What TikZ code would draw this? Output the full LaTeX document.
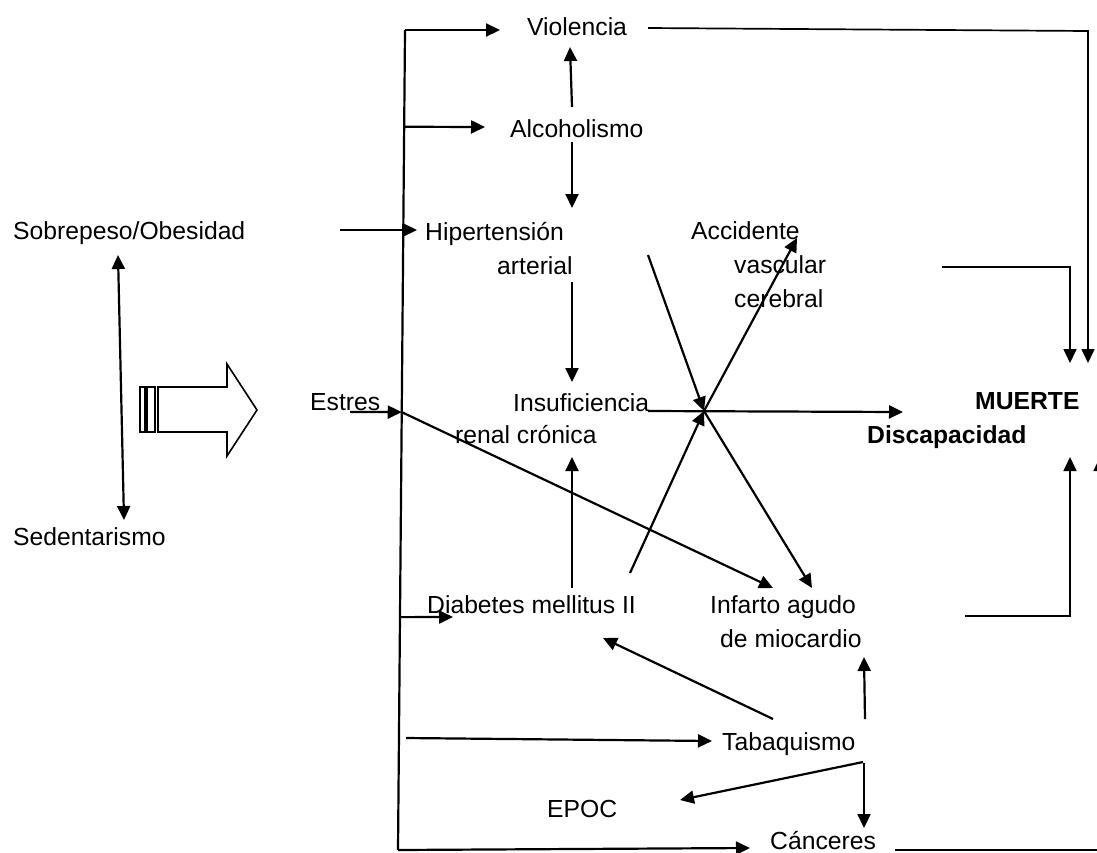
\documentclass[tikz,border=0pt]{standalone}
\usepackage{fontspec}
\setmainfont{Liberation Sans}
\usetikzlibrary{arrows.meta,calc}
\newcommand\labfont{\fontsize{24.7}{34}\selectfont}
\tikzset{
  lbl/.style={inner sep=0pt, anchor=base west, font=\labfont},
  ln/.style={line width=2.2pt},
  arr/.style={ln, -{Triangle[length=14pt,width=13pt]}},
  darr/.style={ln, {Triangle[length=14pt,width=13pt]}-{Triangle[length=14pt,width=13pt]}},
}
\begin{document}
\begin{tikzpicture}[x=1pt,y=-1pt]
\useasboundingbox (0,0) rectangle (1097,852);
% labels
\node[lbl] (viol) at (527,35) {Violencia};
\node[lbl] (alc) at (510,137) {Alcoholismo};
\node[lbl] (hip) at (425,240) {Hipertensión};
\node[lbl] (hipb) at (497,274) {arterial};
\node[lbl] (acv) at (691,239) {Accidente};
\node[lbl] (acvb) at (734,273) {vascular};
\node[lbl] (acvc) at (734,307) {cerebral};
\node[lbl] (sob) at (13,239) {Sobrepeso/Obesidad};
\node[lbl] (sed) at (13,545) {Sedentarismo};
\node[lbl] (est) at (310,410) {Estres};
\node[lbl] (ins) at (513,411) {Insuficiencia};
\node[lbl] (insb) at (455,443) {renal crónica};
\node[lbl] (muer) at (975,409) {\bfseries MUERTE};
\node[lbl] (disc) at (867,443) {\bfseries Discapacidad};
\node[lbl] (diab) at (427,613) {Diabetes mellitus II};
\node[lbl] (inf) at (710,613) {Infarto agudo};
\node[lbl] (infb) at (720,647) {de miocardio};
\node[lbl] (tab) at (722,750) {Tabaquismo};
\node[lbl] (epoc) at (547,817) {EPOC};
\node[lbl] (canc) at (770,849) {Cánceres};

% block arrow
\draw[line width=1.6pt] (140,387) rectangle (145,432);
\draw[line width=1.6pt] (147,387) rectangle (155,432);
\draw[line width=1.6pt, line join=miter] (158,387) -- (227,387) -- (227,364) -- (257,410) -- (227,456) -- (227,432) -- (158,432) -- cycle;

% left double arrow
\draw[darr] ($(sob.base west)+(105,16)$) -- ($(sed.base west)+(111,-25)$);

% bus
\coordinate (bust) at (405,30);
\coordinate (busb) at (398,850);
\draw[ln] (bust) -- (busb);
\draw[arr] (bust) -- ($(viol.base west)+(-27,-5)$);
\draw[arr] ($(bust)!0.118!(busb)$) -- ($(alc.base west)+(-25,-10)$);
\draw[arr] ($(sob.base west)+(327,-9)$) -- ($(hip.base west)+(-8,-10)$);
\coordinate (ej) at ($(bust)!0.466!(busb)$);
\draw[arr] ($(est.base west)+(40,2)$) -- (ej);
\draw[arr] (ej) -- ($(inf.base west)+(63,-25)$);
\draw[arr] ($(bust)!0.716!(busb)$) -- ($(diab.base west)+(26,4)$);
\draw[arr] ($(tab.base west)+(-316,-12)$) -- ($(tab.base west)+(-10,-9)$);
\draw[arr] (busb) -- ($(canc.base west)+(-20,-1)$);

% vertical chain
\draw[arr] ($(alc.base west)+(62,-30)$) -- ($(viol.base west)+(43,12)$);
\draw[arr] ($(alc.base west)+(62,5)$) -- ($(hip.base west)+(147,-32)$);
\draw[arr] ($(hipb.base west)+(75,8)$) -- ($(ins.base west)+(59,-29)$);
\draw[arr] ($(diab.base west)+(145,-25)$) -- ($(insb.base west)+(117,14)$);

% crossing
\coordinate (cx) at ($(ins.base west)+(191,0)$);
\draw[arr] ($(hip.base west)+(223,15)$) -- (cx);
\draw[arr] (cx) -- ($(acv.base west)+(106,-1)$);
\draw[arr] ($(ins.base west)+(135,0)$) -- ($(disc.base west)+(36,-31)$);
\draw[arr] ($(diab.base west)+(203,-40)$) -- (cx);
\draw[arr] (cx) -- ($(inf.base west)+(102,-25)$);

% tabaquismo
\draw[arr] ($(tab.base west)+(51,-31)$) -- ($(diab.base west)+(176,25)$);
\draw[arr] ($(tab.base west)+(143,-31)$) -- ($(infb.base west)+(144,10)$);
\draw[arr] ($(tab.base west)+(141,12)$) -- ($(epoc.base west)+(133,-17)$);
\draw[arr] ($(tab.base west)+(142,13)$) -- ($(canc.base west)+(94,-21)$);

% to MUERTE
\draw[arr, line width=1.7pt] ($(viol.base west)+(121,-7)$) -- ($(muer.base west)+(113,-378)$) -- ($(muer.base west)+(113,-46)$);
\draw[arr, line width=1.7pt] ($(acvc.base west)+(208,-40)$) -- ($(muer.base west)+(95,-142)$) -- ($(muer.base west)+(95,-46)$);
\draw[arr, line width=1.7pt] ($(infb.base west)+(245,-31)$) -- ($(disc.base west)+(203,173)$) -- ($(disc.base west)+(203,14)$);
\draw[arr, line width=1.7pt] ($(canc.base west)+(125,1)$) -- ($(disc.base west)+(233,407)$) -- ($(disc.base west)+(233,14)$);
\end{tikzpicture}
\end{document}
